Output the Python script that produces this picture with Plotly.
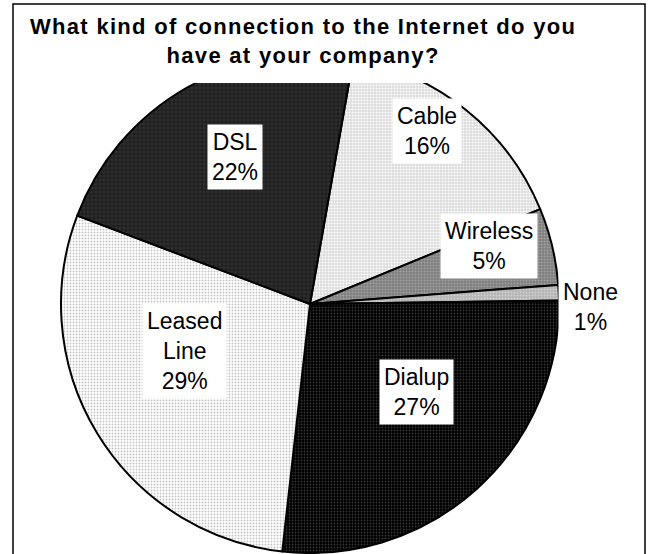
import plotly.graph_objects as go

# Survey answers, in clockwise order starting just right of 12 o'clock
categories = ["Cable", "Wireless", "None", "Dialup", "Leased Line", "DSL"]
shares = [16, 5, 1, 27, 29, 22]
label_lines = ["Cable", "Wireless", "None", "Dialup", "Leased<br>Line", "DSL"]

W, H = 649, 554

# Monochrome fills: base colour + dot/grid pattern per slice
base_colors = ["#dcdcdc", "#7f7f7f", "#b4b4b4", "#000000", "#ffffff", "#2f2f2f"]
pat_shapes = [".", ".", ".", ".", ".", "+"]
pat_fg = ["#ffffff", "#a4a4a4", "#d2d2d2", "#333333", "#c4c4c4", "#141414"]
pat_size = [3, 3, 3, 3, 3, 4]
pat_solid = [0.35, 0.3, 0.3, 0.3, 0.3, 0.35]

# Pie geometry in pixels
cx, cy, r = 310, 304, 249


def px(x, y):
    return x / W, 1 - y / H


fig = go.Figure(
    go.Pie(
        labels=categories,
        values=shares,
        sort=False,
        direction="clockwise",
        rotation=10,
        textinfo="none",
        hoverinfo="skip",
        showlegend=False,
        marker=dict(
            colors=base_colors,
            line=dict(color="black", width=2),
            pattern=dict(
                shape=pat_shapes,
                fgcolor=pat_fg,
                bgcolor=base_colors,
                size=pat_size,
                solidity=pat_solid,
                fillmode="replace",
            ),
        ),
        domain=dict(x=[(cx - r) / W, (cx + r) / W], y=[1 - (cy + r) / H, 1 - (cy - r) / H]),
    )
)

# Label box centres (pixels)
label_pos = {
    "Cable": (427, 131),
    "Wireless": (489, 246),
    "None": (590, 307),
    "Dialup": (416, 392),
    "Leased Line": (184, 351),
    "DSL": (235, 157),
}

annotations = []
for cat, txt, val in zip(categories, label_lines, shares):
    x, y = px(*label_pos[cat])
    annotations.append(
        dict(
            x=x, y=y, xref="paper", yref="paper",
            text=f"{txt}<br>{val}%",
            showarrow=False,
            font=dict(family="Liberation Sans, Arial, sans-serif", size=23, color="black"),
            bgcolor="white",
            borderpad=4,
            align="center",
            xanchor="center", yanchor="middle",
        )
    )

tx, ty = px(303, 41)
annotations.append(
    dict(
        x=tx, y=ty, xref="paper", yref="paper",
        text="<b><span style='letter-spacing:1.3px'>What kind of connection to the Internet do you</span></b><br>"
             "<b><span style='letter-spacing:1.3px'>have at your company?</span></b>",
        showarrow=False,
        font=dict(family="Liberation Sans, Arial, sans-serif", size=22, color="black"),
        align="center",
        xanchor="center", yanchor="middle",
    )
)

shapes = [
    # white band behind the title, hiding the top of the pie
    dict(type="rect", xref="paper", yref="paper", layer="above",
         x0=px(20, 0)[0], x1=px(640, 0)[0], y0=px(0, 83)[1], y1=px(0, 6)[1],
         fillcolor="white", line=dict(width=0)),
    # chart frame
    dict(type="rect", xref="paper", yref="paper", layer="above",
         x0=px(13, 0)[0], x1=px(645, 0)[0], y0=px(0, 570)[1], y1=px(0, 4)[1],
         fillcolor="rgba(0,0,0,0)", line=dict(color="black", width=1.5)),
]

fig.update_layout(
    width=W, height=H,
    margin=dict(l=0, r=0, t=0, b=0),
    paper_bgcolor="white",
    plot_bgcolor="white",
    annotations=annotations,
    shapes=shapes,
)

fig.write_html("out.html")
